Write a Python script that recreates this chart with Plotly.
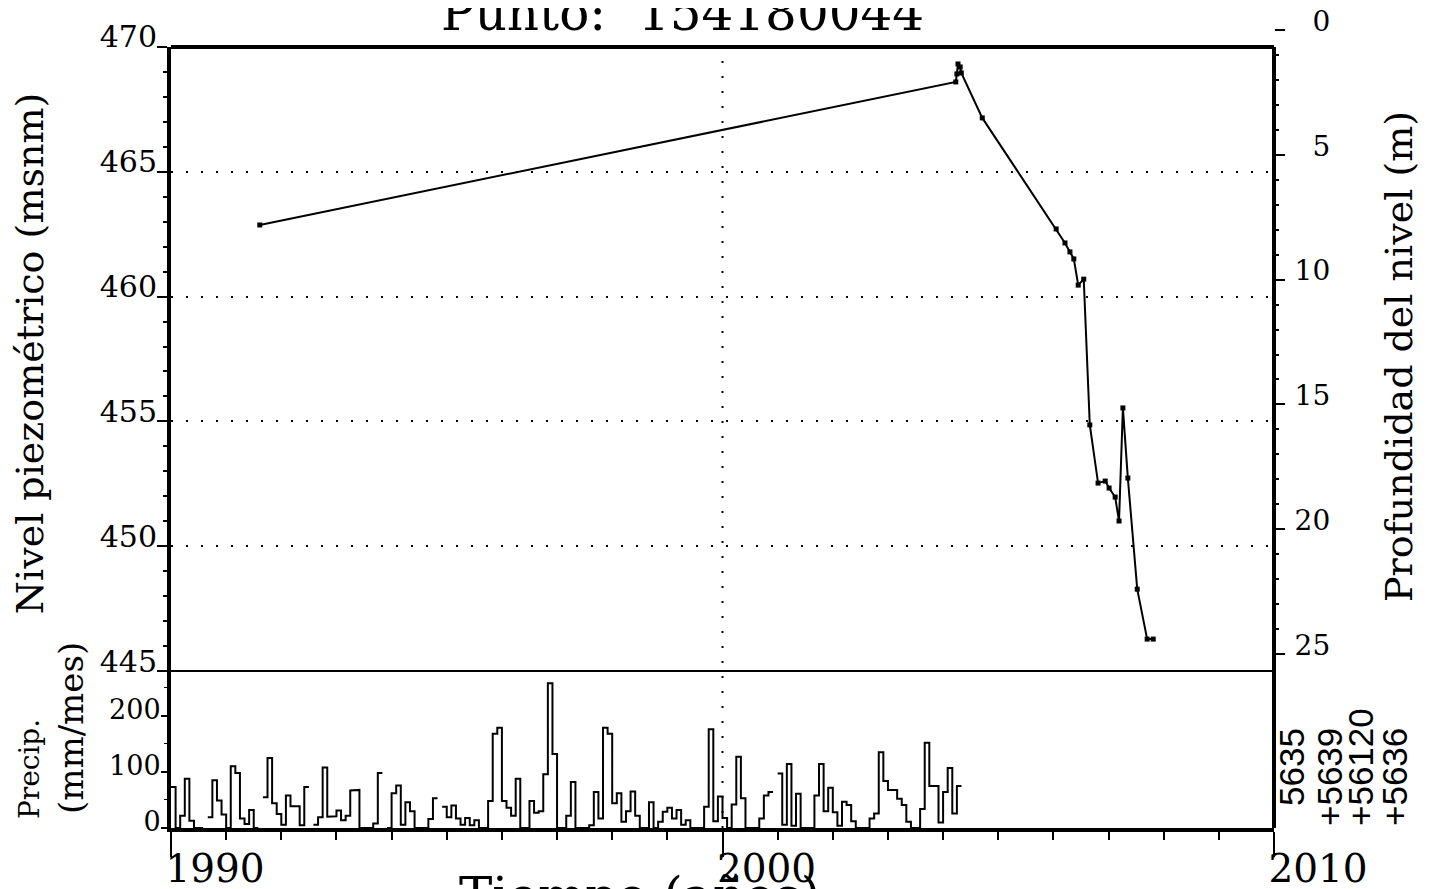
import plotly.graph_objects as go

# Punto 154180044: nivel piezométrico y precipitación mensual
titulo = "Punto:  154180044"
cota_terreno = 470.68  # msnm, para el eje de profundidad

fechas_nivel = [1991.61, 2004.23, 2004.25, 2004.27, 2004.31, 2004.33, 2004.71,
                2006.05, 2006.21, 2006.30, 2006.37, 2006.45, 2006.55, 2006.66,
                2006.81, 2006.94, 2007.01, 2007.12, 2007.19, 2007.26, 2007.35,
                2007.52, 2007.70, 2007.81]
nivel_msnm = [462.87, 468.60, 468.92, 469.32, 469.20, 468.96, 467.16,
              462.71, 462.15, 461.79, 461.51, 460.46, 460.70, 454.86,
              452.53, 452.61, 452.33, 451.97, 451.01, 455.54, 452.73,
              448.28, 446.28, 446.28]

# precipitación mensual (mm/mes) desde enero de 1990, None = sin dato
precip_mm = [
    73, 0, 22, 88, 13, 0, 0, None, 19, 85, 49, 24,
    0, 110, 98, 17, 7, 32, 0, None, 55, 125, 44, 25,
    6, 58, 39, 39, 5, 73, None, 6, 19, 108, 20, 21,
    31, 14, 22, 67, 68, 0, 0, 0, 8, 98, None, 0,
    62, 76, 6, 46, 30, 0, 0, 0, 16, 53, None, 38,
    19, 40, 17, 6, 18, 5, 14, 0, 0, 48, 168, 179,
    48, 36, 22, 88, 0, 0, 48, 27, 30, 96, 258, 132,
    0, 0, 22, 82, 0, 0, 0, 5, 64, 17, 179, 168,
    44, 62, 11, 30, 65, 22, 0, 0, 46, 0, 11, 29,
    36, 17, 32, 6, 14, 0, 0, 0, 38, 176, 12, 56,
    18, 0, 42, 127, 53, 0, 0, 0, 17, 58, 64, None,
    97, 6, 114, 4, 61, 0, 0, 0, 58, 114, 30, 72,
    28, 4, 47, 41, 12, 0, 0, 0, 17, 26, 135, 84,
    68, 68, 52, 41, 11, 0, 0, 34, 152, 75, 75, 10,
    64, 107, 26, 75,
]
anio_inicio = 1990

prof_ticks = [0, 5, 10, 15, 20, 25]
estaciones = ["5635", "+5639", "+56120", "+5636"]

fuente = "DejaVu Serif"
negro = "black"

# escalones mensuales
px_, py_ = [], []
for i, v in enumerate(precip_mm):
    if v is None:
        px_.append(None)
        py_.append(None)
        continue
    x0 = anio_inicio + i / 12
    px_ += [x0, x0 + 1 / 12]
    py_ += [v, v]

fig = go.Figure()
fig.add_trace(go.Scatter(
    x=fechas_nivel, y=[cota_terreno - v for v in nivel_msnm], mode="lines",
    line=dict(color="rgba(0,0,0,0)", width=1), hoverinfo="skip",
    xaxis="x", yaxis="y3", showlegend=False,
))
fig.add_trace(go.Scatter(
    x=fechas_nivel, y=nivel_msnm, mode="lines+markers",
    line=dict(color=negro, width=2),
    marker=dict(symbol="square", size=5, color=negro),
    xaxis="x", yaxis="y", showlegend=False,
))
fig.add_trace(go.Scatter(
    x=px_, y=py_, mode="lines", line=dict(color=negro, width=2),
    connectgaps=False, xaxis="x", yaxis="y2", showlegend=False,
))

y_sep = 0.1967   # 445 / borde del panel de precipitación
y_top = 0.9787   # 470

fig.update_layout(
    width=1431, height=889,
    paper_bgcolor="white", plot_bgcolor="rgba(0,0,0,0)",
    margin=dict(l=163, r=165, t=22, b=69, autoexpand=False),
    xaxis=dict(
        domain=[0, 1], anchor="y2", range=[1990, 2010], automargin=False,
        tickvals=[1990, 2000, 2010], ticks="outside", ticklen=25,
        tickwidth=2, tickcolor=negro, showline=True, linewidth=4,
        linecolor=negro, showgrid=False, zeroline=False,
        minor=dict(dtick=1, ticks="outside", ticklen=8, tickwidth=2,
                   tickcolor=negro, showgrid=False),
        tickfont=dict(family=fuente, size=39, color=negro),
        ticklabelshift=44, ticklabelstandoff=-22, ticklabeloverflow="allow",
    ),
    yaxis=dict(
        domain=[y_sep, y_top], anchor="x", range=[445, 470], dtick=5,
        automargin=False,
        ticks="outside", ticklen=10, tickwidth=2, tickcolor=negro,
        showline=True, linewidth=4, linecolor=negro,
        showgrid=True, gridcolor=negro, gridwidth=2, griddash="2px,13px",
        zeroline=False,
        minor=dict(dtick=1, ticks="outside", ticklen=4, tickwidth=2,
                   tickcolor=negro, showgrid=False),
        tickfont=dict(family=fuente, size=30, color=negro),
        ticklabelshift=-10, ticklabelstandoff=-6, ticklabeloverflow="allow",
    ),
    yaxis2=dict(
        domain=[0, y_sep], anchor="x", range=[0, 280], automargin=False,
        tickvals=[0, 100, 200], ticks="outside", ticklen=6, tickwidth=2,
        tickcolor=negro, showline=True, linewidth=4, linecolor=negro,
        showgrid=False, zeroline=False,
        minor=dict(dtick=50, ticks="outside", ticklen=3, tickwidth=1,
                   tickcolor=negro, showgrid=False),
        tickfont=dict(family=fuente, size=27, color=negro),
        ticklabelshift=-6, ticklabelstandoff=-5, ticklabeloverflow="allow",
    ),
    yaxis3=dict(
        domain=[y_sep, 1], anchor="x", side="right", range=[25.68, 0],
        automargin=False,
        tickvals=prof_ticks,
        ticktext=[("\u2007" if t < 10 else "") + str(t) for t in prof_ticks],
        ticks="outside", ticklen=10,
        tickwidth=2, tickcolor=negro, showline=False, showgrid=False,
        zeroline=False,
        minor=dict(dtick=1, ticks="outside", ticklen=4, tickwidth=2,
                   tickcolor=negro, showgrid=False),
        tickfont=dict(family=fuente, size=28, color=negro),
        ticklabelshift=9, ticklabelstandoff=4, ticklabeloverflow="allow",
    ),
)

# marco y línea de referencia del año 2000
fig.add_shape(type="line", xref="paper", yref="paper", x0=0, x1=1,
              y0=y_top, y1=y_top, line=dict(color=negro, width=4))
fig.add_shape(type="line", xref="paper", yref="paper", x0=1, x1=1,
              y0=0, y1=y_top, line=dict(color=negro, width=4))
fig.add_shape(type="line", xref="paper", yref="paper", x0=0, x1=1,
              y0=y_sep, y1=y_sep, line=dict(color=negro, width=2))
fig.add_shape(type="line", xref="x", yref="paper", x0=2000, x1=2000,
              y0=0, y1=y_top, line=dict(color=negro, width=2, dash="2px,13px"))

anot = [
    dict(text=titulo, x=0.4633, y=0.9825, yanchor="bottom",
         font=dict(family=fuente, size=50, color=negro)),
    dict(text="Nivel piezométrico (msnm)", x=-0.1278, y=0.595, yanchor="middle",
         textangle=-90, font=dict(family=fuente, size=38, color=negro)),
    dict(text="Profundidad del nivel (m)", x=1.1133, y=0.5915, yanchor="middle",
         textangle=-90, font=dict(family=fuente, size=38, color=negro)),
    dict(text="Precip.", x=-0.1287, y=0.0739, yanchor="middle",
         textangle=-90, font=dict(family=fuente, size=28, color=negro)),
    dict(text="(mm/mes)", x=-0.0906, y=0.1253, yanchor="middle",
         textangle=-90, font=dict(family=fuente, size=34, color=negro)),
    dict(text="Tiempo (años)", x=0.4243, y=-0.046, yanchor="top",
         font=dict(family=fuente, size=50, color=negro)),
]
for a in anot:
    fig.add_annotation(xref="paper", yref="paper", xanchor="center",
                       showarrow=False, **a)

# códigos de estaciones pluviométricas
x_est = [1289, 1327, 1358, 1392]
y_est = [807, 827, 827, 827]
for cod, xp, yp in zip(estaciones, x_est, y_est):
    fig.add_annotation(text=cod, xref="paper", yref="paper",
                       x=(xp - 169) / 1103, y=(827 - yp) / 798,
                       xanchor="center", yanchor="bottom", textangle=-90,
                       showarrow=False,
                       font=dict(family="Liberation Sans", size=35, color=negro))

fig.write_html("out.html")
